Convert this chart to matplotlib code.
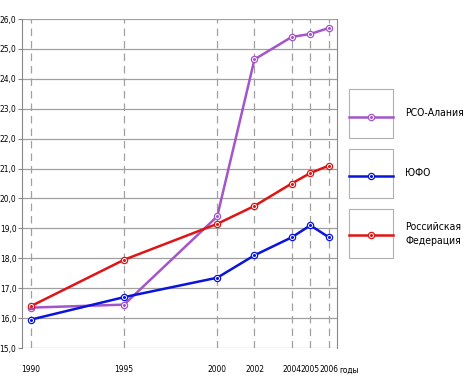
import matplotlib
matplotlib.use('Agg')
import matplotlib.pyplot as plt
from matplotlib.patches import Rectangle
from matplotlib.lines import Line2D

# data
years = [1990, 1995, 2000, 2002, 2004, 2005, 2006]
alania = [16.35, 16.45, 19.4, 24.65, 25.4, 25.5, 25.7]
yufo = [15.95, 16.7, 17.35, 18.1, 18.7, 19.1, 18.7]
russia = [16.4, 17.95, 19.15, 19.75, 20.5, 20.85, 21.1]
labels = ['РСО-Алания', 'ЮФО', 'Российская\nФедерация']
colors = ['#a455c9', '#0a14dc', '#e01414']
yticks = [15, 16, 17, 18, 19, 20, 21, 22, 23, 24, 25, 26]

plt.rcParams['font.family'] = ['DejaVu Sans']
plt.rcParams['font.stretch'] = 'condensed'

fig = plt.figure(figsize=(4.66, 3.88), dpi=100)
ax = fig.add_axes([22 / 466, 1 - 348 / 388, (337 - 22) / 466, (348 - 19) / 388])

# grid: solid horizontal, dashed vertical
for v in yticks:
    ax.axhline(v, color='#a0a0a0', lw=0.9, zorder=1)
for yr in years:
    ax.axvline(yr, color='#a0a0a0', lw=0.9, ls=(0, (6, 4)), zorder=1)

for vals, c in zip([alania, yufo, russia], colors):
    ax.plot(years, vals, color=c, lw=1.8, zorder=3)
    ax.plot(years, vals, ls='none', marker='o', ms=4.5, mfc='white', mec=c, mew=0.9, zorder=4)
    ax.plot(years, vals, ls='none', marker='o', ms=1.2, mfc=c, mec=c, zorder=5)

ax.set_xlim(1989.52, 2006.43)
ax.set_ylim(15, 26)
ax.set_yticks(yticks)
ax.set_yticklabels([('%.1f' % v).replace('.', ',') for v in yticks], fontsize=6)
ax.set_xticks(years)
ax.set_xticklabels([str(y) for y in years], fontsize=6)
ax.tick_params(axis='x', length=0, pad=12)
ax.tick_params(axis='y', length=3, color='#888888', pad=1)
ax.spines['top'].set_visible(False)
ax.spines['bottom'].set_visible(False)
ax.spines['left'].set_color('#888888')
ax.spines['right'].set_color('#888888')
ax.text(2006.55, 14.4, 'годы', fontsize=6, ha='left', va='top')

# legend boxes on the right
W, H = 466.0, 388.0
boxes = [(89, 117, 113), (149, 176, 173), (209, 235, 234)]
for (top, ly, ty), lab, c in zip(boxes, labels, colors):
    fig.patches.append(Rectangle((349 / W, 1 - (top + 49) / H), 44 / W, 49 / H,
                                 transform=fig.transFigure, fill=False,
                                 ec='#b0b0b0', lw=0.8))
    fig.lines.append(Line2D([349 / W, 393 / W], [1 - ly / H] * 2, color=c, lw=1.8,
                            transform=fig.transFigure))
    fig.lines.append(Line2D([371 / W], [1 - ly / H], marker='o', ms=4.5, mfc='white',
                            mec=c, mew=0.9, transform=fig.transFigure))
    fig.lines.append(Line2D([371 / W], [1 - ly / H], marker='o', ms=1.2, mfc=c,
                            mec=c, transform=fig.transFigure))
    fig.text(405 / W, 1 - ty / H, lab, fontsize=7.5, ha='left', va='center',
             linespacing=1.4)

fig.savefig('out.png', dpi=100)
